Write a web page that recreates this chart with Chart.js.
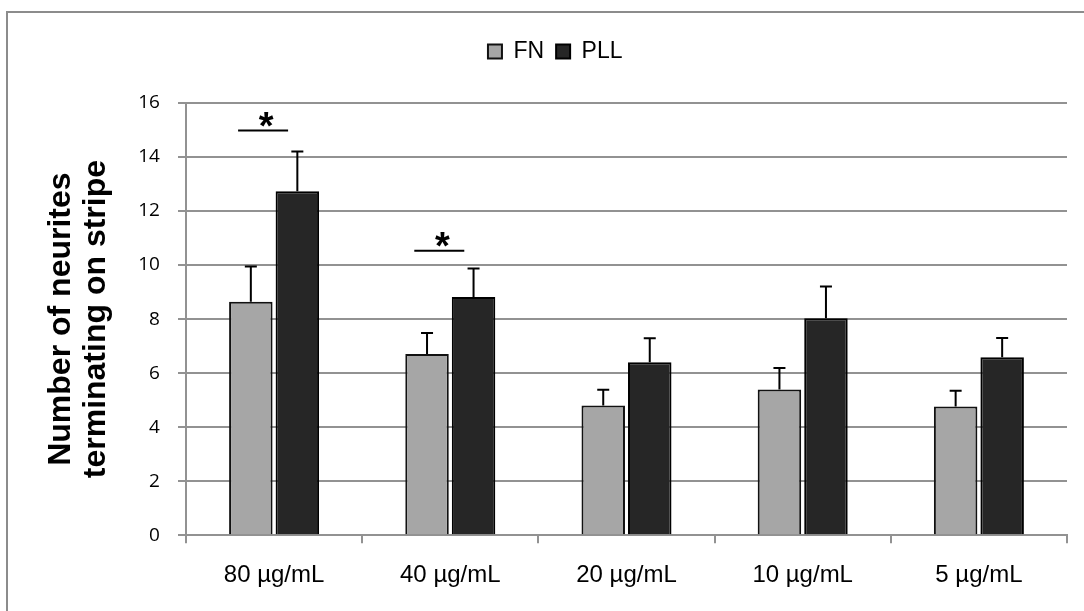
<!DOCTYPE html>
<html>
<head>
<meta charset="utf-8">
<script src="https://cdn.jsdelivr.net/npm/chart.js@4.4.1/dist/chart.umd.min.js"></script>
<style>
  html, body { margin: 0; padding: 0; background: #fff; overflow: hidden; }
  #wrap { position: relative; width: 1084px; height: 611px; }
  /* frame around the chart; right and bottom edges run off the page */
  #frame {
    position: absolute; left: 6px; top: 11px; width: 1200px; height: 700px;
    border-left: 2px solid #8c8c8c; border-top: 2px solid #8c8c8c;
    pointer-events: none;
  }
</style>
</head>
<body>
<div id="wrap">
  <canvas id="neurites"></canvas>
  <div id="frame"></div>
</div>
<script>
// Coating concentrations
const concentrations = ['80 µg/mL', '40 µg/mL', '20 µg/mL', '10 µg/mL', '5 µg/mL'];

// Mean neurites terminating on each stripe type
const fnMeans  = [8.64, 6.71, 4.80, 5.39, 4.76];
const pllMeans = [12.73, 8.82, 6.40, 8.03, 6.59];

// Upper error bars (SEM)
const fnErr  = [1.31, 0.78, 0.58, 0.80, 0.59];
const pllErr = [1.47, 1.05, 0.89, 1.18, 0.71];

// Significant pairs: category index and height of the bracket line
const sigIndex = [0, 1];
const sigLevel = [14.98, 10.53];

const yTicks = { min: 0, max: 16, step: 2 };

const GRID = '#929292';

// Draws the upward error bars on top of each bar
const errorBars = {
  id: 'errorBars',
  afterDatasetsDraw(chart) {
    const ctx = chart.ctx;
    const y = chart.scales.y;
    const errs = [fnErr, pllErr];
    ctx.save();
    ctx.strokeStyle = '#000';
    ctx.lineWidth = 2;
    chart.data.datasets.forEach((ds, i) => {
      const meta = chart.getDatasetMeta(i);
      meta.data.forEach((bar, j) => {
        const top = y.getPixelForValue(ds.data[j] + errs[i][j]);
        ctx.beginPath();
        ctx.moveTo(bar.x, bar.y);
        ctx.lineTo(bar.x, top);
        ctx.moveTo(bar.x - 6, top);
        ctx.lineTo(bar.x + 6, top);
        ctx.stroke();
      });
    });
    ctx.restore();
  }
};

// Significance brackets with asterisks
const sigMarks = {
  id: 'sigMarks',
  afterDatasetsDraw(chart) {
    const ctx = chart.ctx;
    const x = chart.scales.x;
    const y = chart.scales.y;
    ctx.save();
    ctx.strokeStyle = '#000';
    ctx.fillStyle = '#000';
    ctx.lineWidth = 2;
    ctx.font = 'bold 38px "Liberation Sans", Arial, sans-serif';
    ctx.textAlign = 'center';
    ctx.textBaseline = 'alphabetic';
    sigIndex.forEach((idx, k) => {
      const cx = x.getPixelForValue(idx) - 11;
      const ly = y.getPixelForValue(sigLevel[k]);
      ctx.beginPath();
      ctx.moveTo(cx - 25, ly);
      ctx.lineTo(cx + 25, ly);
      ctx.stroke();
      ctx.fillText('*', cx + 3, ly + 8);
    });
    ctx.restore();
  }
};

// Leave room between the legend and the plot
const legendGap = {
  id: 'legendGap',
  beforeInit(chart) {
    if (!chart.legend) return;
    const fit = chart.legend.fit;
    chart.legend.fit = function () {
      fit.bind(chart.legend)();
      this.height += 30;
    };
  }
};

const ctx = document.getElementById('neurites').getContext('2d');
new Chart(ctx, {
  type: 'bar',
  data: {
    labels: concentrations,
    datasets: [
      {
        label: 'FN',
        data: fnMeans,
        backgroundColor: '#a6a6a6',
        borderColor: '#111',
        borderWidth: 2,
        categoryPercentage: 0.528,
        barPercentage: 0.935
      },
      {
        label: 'PLL',
        data: pllMeans,
        backgroundColor: '#262626',
        borderColor: '#000',
        borderWidth: 2,
        categoryPercentage: 0.528,
        barPercentage: 0.935
      }
    ]
  },
  options: {
    responsive: true,
    maintainAspectRatio: false,
    animation: false,
    layout: { padding: { left: 43.5, right: 17, top: 28, bottom: 3 } },
    plugins: {
      legend: {
        position: 'top',
        labels: {
          boxWidth: 14,
          boxHeight: 14,
          padding: 12,
          color: '#000',
          font: { family: '"Liberation Sans", Arial, sans-serif', size: 23 }
        }
      },
      tooltip: { enabled: false }
    },
    scales: {
      x: {
        grid: {
          drawOnChartArea: false,
          drawTicks: true,
          tickLength: 8,
          color: GRID,
          lineWidth: 2,
          offset: true
        },
        border: { color: GRID, width: 2 },
        ticks: {
          color: '#000',
          padding: 18,
          font: { family: '"Liberation Sans", Arial, sans-serif', size: 24 }
        }
      },
      y: {
        min: yTicks.min,
        max: yTicks.max,
        grid: { color: GRID, lineWidth: 2, tickLength: 8 },
        border: { color: GRID, width: 2 },
        ticks: {
          stepSize: yTicks.step,
          color: '#000',
          padding: 18,
          font: { family: '"Open Sans", sans-serif', size: 19 }
        },
        title: {
          display: true,
          text: ['Number of neurites', 'terminating on stripe'],
          color: '#000',
          padding: { top: 0, bottom: 7 },
          font: { family: '"Liberation Sans", Arial, sans-serif', size: 32, weight: 'bold', lineHeight: 1.09 }
        }
      }
    }
  },
  plugins: [legendGap, errorBars, sigMarks]
});
</script>
</body>
</html>
